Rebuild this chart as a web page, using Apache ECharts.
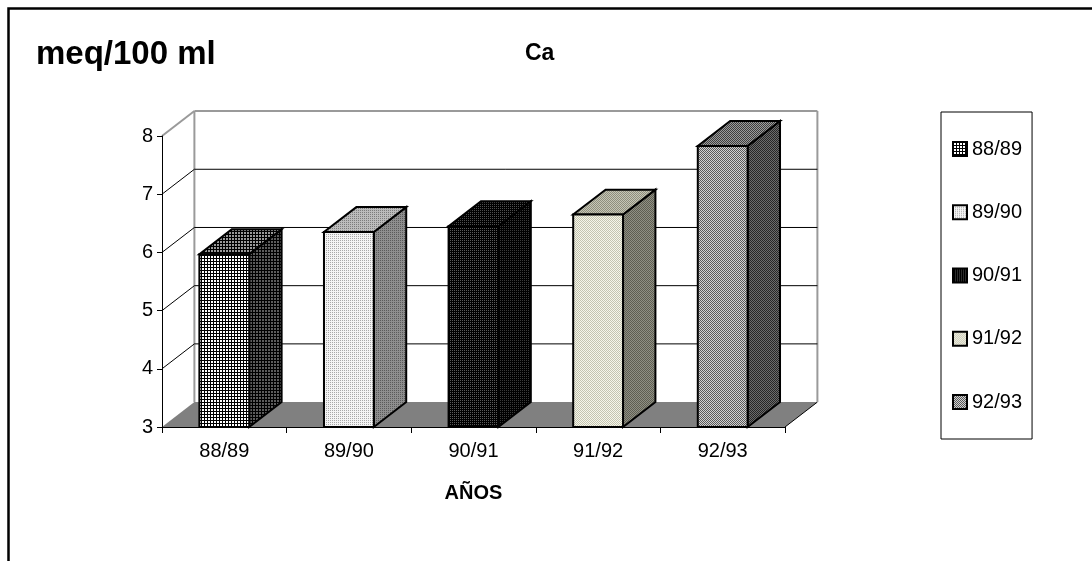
<!DOCTYPE html>
<html>
<head>
<meta charset="utf-8">
<script src="https://cdn.jsdelivr.net/npm/echarts@6/dist/echarts.min.js"></script>
<style>
  html, body { margin: 0; padding: 0; background: #fff; }
  #chart { width: 1092px; height: 561px; }
</style>
</head>
<body>
<div id="chart"></div>
<script>
// Calcium (meq/100 ml) per agricultural year
const categories = ['88/89', '89/90', '90/91', '91/92', '92/93'];
const caValues = [5.97, 6.35, 6.45, 6.65, 7.83];
const yTicks = [3, 4, 5, 6, 7, 8];
const yMin = 3;
const yMax = 8;

const FONT = "'Liberation Sans', Arial, sans-serif";

// Small repeating textures for the bar faces
function tile(size, paint) {
  const c = document.createElement('canvas');
  c.width = c.height = size;
  paint(c.getContext('2d'));
  return { image: c, repeat: 'repeat' };
}
function gridTile(bg, line) {
  return tile(3, g => {
    g.fillStyle = bg; g.fillRect(0, 0, 3, 3);
    g.fillStyle = line; g.fillRect(0, 0, 3, 1); g.fillRect(0, 0, 1, 3);
  });
}
function dotTile(bg, dot) {
  return tile(2, g => {
    g.fillStyle = bg; g.fillRect(0, 0, 2, 2);
    g.fillStyle = dot; g.fillRect(0, 0, 1, 1);
  });
}
function checkTile(a, b) {
  return tile(2, g => {
    g.fillStyle = a; g.fillRect(0, 0, 2, 2);
    g.fillStyle = b; g.fillRect(0, 0, 1, 1); g.fillRect(1, 1, 1, 1);
  });
}

// front / top / side textures of each column
const faces = [
  { front: gridTile('#ffffff', '#000000'), top: gridTile('#9a9a9a', '#000000'), side: gridTile('#5c5c5c', '#000000') },
  { front: dotTile('#f4f4f4', '#a8a8a8'), top: dotTile('#bcbcbc', '#7c7c7c'), side: dotTile('#8e8e8e', '#5a5a5a') },
  { front: dotTile('#000000', '#5a5a5a'), top: dotTile('#000000', '#4e4e4e'), side: dotTile('#000000', '#3a3a3a') },
  { front: checkTile('#f6f6ea', '#c4c4b0'), top: checkTile('#c6c6b6', '#8e8e7e'), side: checkTile('#909084', '#5e5e52') },
  { front: checkTile('#d2d2d2', '#5a5a5a'), top: checkTile('#9c9c9c', '#3e3e3e'), side: checkTile('#6c6c6c', '#262626') }
];

// depth of the 3-D box, as a share of one category band
const DEPTH_X = 0.26;
const DEPTH_Y = -0.2;

// floor, back wall and side-wall grid lines
const wallSeries = {
  type: 'custom',
  coordinateSystem: 'cartesian2d',
  silent: true,
  z: 1,
  encode: { x: 0, y: 1 },
  data: yTicks.map(t => [0, t]),
  renderItem: (params, api) => {
    const cs = params.coordSys;
    const t = api.value(1);
    const y = api.coord([0, t])[1];
    const cw = api.size([1, 0])[0];
    const dx = cw * DEPTH_X, dy = cw * DEPTH_Y;
    const xL = cs.x, xR = cs.x + cs.width;
    const children = [];
    if (t === yMin) {
      const yTop = api.coord([0, yMax])[1];
      children.push({ type: 'polygon', shape: { points: [[xL, y], [xR, y], [xR + dx, y + dy], [xL + dx, y + dy]] },
        style: { fill: '#808080' } });
      children.push({ type: 'line', shape: { x1: xR, y1: y, x2: xR + dx, y2: y + dy },
        style: { stroke: '#000', lineWidth: 1 } });
      children.push({ type: 'line', shape: { x1: xL + dx, y1: y + dy, x2: xL + dx, y2: yTop + dy },
        style: { stroke: '#9a9a9a', lineWidth: 2 } });
      children.push({ type: 'line', shape: { x1: xR + dx, y1: y + dy, x2: xR + dx, y2: yTop + dy },
        style: { stroke: '#9a9a9a', lineWidth: 2 } });
    } else {
      const edge = t === yMax;
      const st = edge ? { stroke: '#9a9a9a', lineWidth: 2 } : { stroke: '#000', lineWidth: 1 };
      children.push({ type: 'line', shape: { x1: xL, y1: y, x2: xL + dx, y2: y + dy }, style: st });
      children.push({ type: 'line', shape: { x1: xL + dx, y1: y + dy, x2: xR + dx, y2: y + dy }, style: st });
    }
    return { type: 'group', children };
  }
};

// one 3-D column per year
const barSeries = categories.map((name, i) => ({
  type: 'custom',
  name,
  coordinateSystem: 'cartesian2d',
  z: 3,
  itemStyle: { color: faces[i].front, borderColor: '#000', borderWidth: 2 },
  encode: { x: 0, y: 1 },
  data: [[i, caValues[i]]],
  renderItem: (params, api) => {
    const f = faces[i];
    const c = api.value(0), v = api.value(1);
    const top = api.coord([c, v]);
    const base = api.coord([c, yMin]);
    const cw = api.size([1, 0])[0];
    const bw = cw * 0.4, dx = cw * DEPTH_X, dy = cw * DEPTH_Y;
    const xl = top[0] - bw / 2, xr = top[0] + bw / 2;
    const yt = top[1], yb = base[1];
    const edge = { stroke: '#000', lineWidth: 2, lineJoin: 'miter' };
    return {
      type: 'group',
      children: [
        { type: 'polygon', shape: { points: [[xr, yt], [xr + dx, yt + dy], [xr + dx, yb + dy], [xr, yb]] },
          style: Object.assign({ fill: f.side }, edge) },
        { type: 'polygon', shape: { points: [[xl, yt], [xr, yt], [xr + dx, yt + dy], [xl + dx, yt + dy]] },
          style: Object.assign({ fill: f.top }, edge) },
        { type: 'rect', shape: { x: xl, y: yt, width: bw, height: yb - yt },
          style: Object.assign({ fill: f.front }, edge) }
      ]
    };
  }
}));

const chart = echarts.init(document.getElementById('chart'), null, { renderer: 'canvas' });
chart.setOption({
  animation: false,
  backgroundColor: '#ffffff',
  textStyle: { fontFamily: FONT },
  title: [
    { text: 'meq/100 ml', left: 36, top: 38, padding: 0,
      textStyle: { fontFamily: FONT, fontSize: 33, fontWeight: 'bold', color: '#000' } },
    { text: 'Ca', left: 525, top: 42, padding: 0,
      textStyle: { fontFamily: FONT, fontSize: 23, fontWeight: 'bold', color: '#000' } }
  ],
  graphic: [
    { type: 'rect', left: 6, top: 6, shape: { x: 0, y: 0, width: 1200, height: 700 }, silent: true,
      style: { fill: 'none', stroke: '#000', lineWidth: 2.5 } }
  ],
  legend: {
    data: categories,
    orient: 'vertical',
    left: 941,
    top: 112,
    padding: [27, 10, 27, 11],
    itemGap: 43.25,
    itemWidth: 14,
    itemHeight: 14,
    icon: 'rect',
    selectedMode: false,
    borderColor: '#000',
    borderWidth: 1,
    itemStyle: { borderColor: '#000', borderWidth: 2 },
    textStyle: { fontFamily: FONT, fontSize: 20, lineHeight: 20, color: '#000' }
  },
  grid: { left: 162, top: 136, width: 623, height: 291, outerBoundsMode: 'none', containLabel: false },
  xAxis: {
    type: 'category',
    data: categories,
    z: 5,
    name: 'AÑOS',
    nameLocation: 'middle',
    nameGap: 56,
    nameMoveOverlap: false,
    nameTextStyle: { fontFamily: FONT, fontSize: 20, fontWeight: 'bold', color: '#000' },
    axisLine: { show: true, lineStyle: { color: '#000', width: 1 } },
    axisTick: { show: true, length: 6, lineStyle: { color: '#000' } },
    axisLabel: { margin: 14, fontFamily: FONT, fontSize: 20, color: '#000' },
    splitLine: { show: false }
  },
  yAxis: {
    type: 'value',
    min: yMin,
    max: yMax,
    interval: 1,
    z: 5,
    axisLine: { show: true, lineStyle: { color: '#000', width: 1 } },
    axisTick: { show: true, length: 5, lineStyle: { color: '#000' } },
    axisLabel: { margin: 9, fontFamily: FONT, fontSize: 20, color: '#000' },
    splitLine: { show: false }
  },
  series: [wallSeries].concat(barSeries)
});
</script>
</body>
</html>
